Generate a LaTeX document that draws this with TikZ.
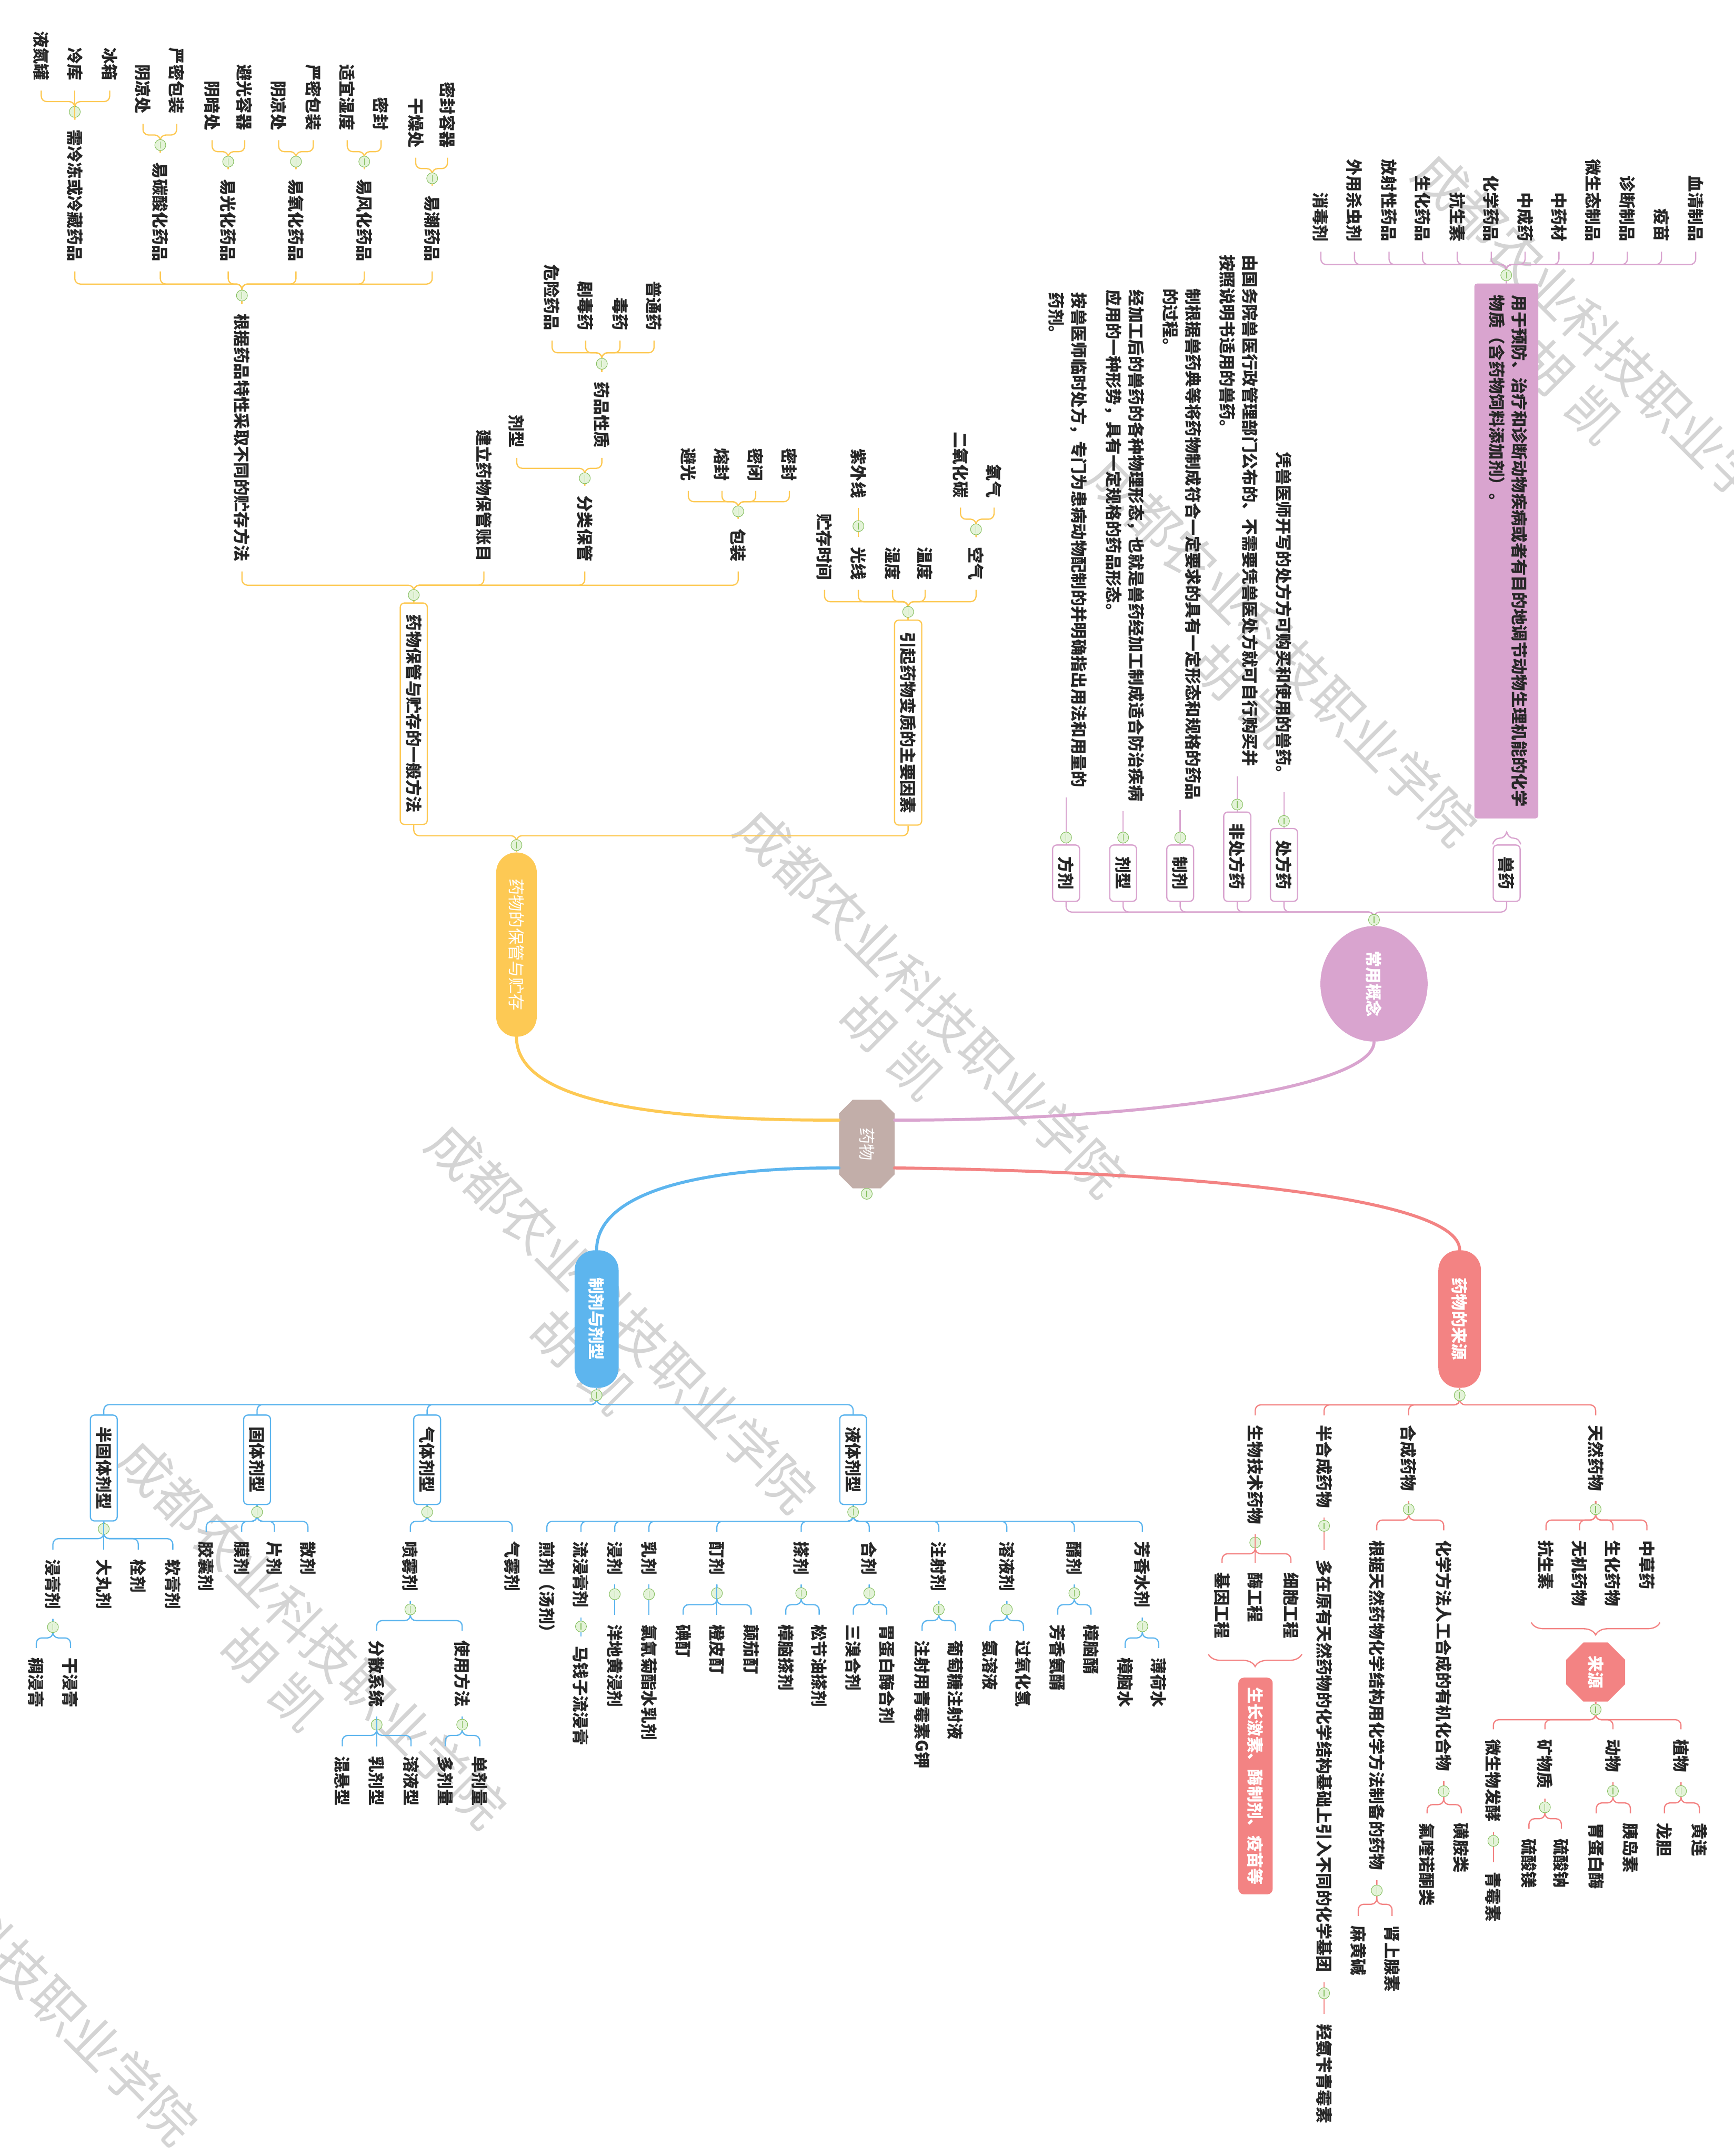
\documentclass[tikz,border=0pt]{standalone}
\usepackage{fontspec}
\setmainfont{Noto Sans CJK SC}
\usepackage{graphicx}
\usetikzlibrary{calc,shapes.geometric,decorations.pathreplacing,backgrounds}

\definecolor{pk}{HTML}{D9A4CF}
\definecolor{yl}{HTML}{FDC954}
\definecolor{bl}{HTML}{5DB5EE}
\definecolor{rd}{HTML}{F38383}
\definecolor{hub}{HTML}{C2AEA9}
\definecolor{mk}{HTML}{86C060}
\definecolor{mkf}{HTML}{E4F3D9}
\definecolor{wm}{HTML}{D4D4D4}
\definecolor{ink}{HTML}{262626}

% 竖排文字
\newcommand\vtext[1]{\rotatebox{-90}{#1}}
\newcommand\vlines[1]{\rotatebox{-90}{\begin{tabular}{@{}l@{}}#1\end{tabular}}}

% 子节点连线
\newcommand\kidsdown[4]{%
  \foreach \k in {#4}{\draw[link,#1] (#2.south) -- ++(0,#3) -| (\k.north);}
  \node[fold] (#2-m) at ($(#2.south)+(0,{0.43*#3})$) {};}
\newcommand\kidsup[4]{%
  \foreach \k in {#4}{\draw[link,#1] (#2.north) -- ++(0,-#3) -| (\k.south);}
  \node[fold] (#2-m) at ($(#2.north)-(0,{0.43*#3})$) {};}
\newcommand\onedown[4]{%
  \draw[link,#1] (#2.south) -- (#3.north);
  \node[fold] (#2-m) at ($(#2.south)+(0,#4)$) {};}
\newcommand\oneup[4]{%
  \draw[link,#1] (#2.north) -- (#3.south);
  \node[fold] (#2-m) at ($(#2.north)-(0,#4)$) {};}

\tikzset{
  txt/.style={inner xsep=3pt, inner ysep=7pt, text=ink, font=\fontsize{12}{16.5}\selectfont\bfseries},
  box/.style={txt, draw, fill=white, rounded corners=3pt, line width=0.9pt, inner xsep=4pt, inner ysep=8.5pt},
  pill/.style={rounded corners=14.5pt, text=white, inner sep=0pt, font=\fontsize{12}{16.5}\selectfont\bfseries},
  link/.style={line width=0.9pt, rounded corners=4pt},
  main/.style={line width=2.2pt, line cap=round},
  brace/.style={decorate, decoration={brace, amplitude=9pt}, line width=0.9pt},
  fold/.style={circle, draw=mk, fill=mkf, line width=0.4pt, minimum size=8pt, inner sep=0pt,
    path picture={\draw[mk, line width=0.5pt] ([yshift=1.6pt]path picture bounding box.south) -- ([yshift=-1.6pt]path picture bounding box.north);}},
  wmk/.style={rotate=-45, text=wm, font=\fontsize{38}{44}\selectfont, inner sep=0pt},
}

\begin{document}
\begin{tikzpicture}[x=1pt, y=-1pt]
\useasboundingbox (0,0) rectangle (1261,1568);

% 水印
\node[wmk] (wm1) at (1170,252) {成都农业科技职业学院};
\node[wmk] (wh1) at (1142,284) {胡\hspace{.3em}凯};
\node[wmk] (wm2) at (933,473) {成都农业科技职业学院};
\node[wmk] (wh2) at (905,505) {胡\hspace{.3em}凯};
\node[wmk] (wm3) at (677,729) {成都农业科技职业学院};
\node[wmk] (wh3) at (649,761) {胡\hspace{.3em}凯};
\node[wmk] (wm4) at (452,958) {成都农业科技职业学院};
\node[wmk] (wh4) at (424,990) {胡\hspace{.3em}凯};
\node[wmk] (wm5) at (227,1188) {成都农业科技职业学院};
\node[wmk] (wh5) at (199,1220) {胡\hspace{.3em}凯};
\node[wmk] (wm6) at (2,1418) {成都农业科技职业学院};

% 中心主题
\node[minimum width=40pt, minimum height=64pt, inner sep=0pt, text=white, font=\fontsize{12}{16}\selectfont] (drug) at (630.5,832) {\vtext{药物}};
\begin{scope}[on background layer]
\fill[hub] ($(drug.north west)+(10,0)$) -- ($(drug.north east)+(-10,0)$) -- ($(drug.north east)+(0,10)$)
  -- ($(drug.south east)+(0,-10)$) -- ($(drug.south east)+(-10,0)$) -- ($(drug.south west)+(10,0)$)
  -- ($(drug.south west)+(0,-10)$) -- ($(drug.north west)+(0,10)$) -- cycle;
\end{scope}

\node[pill, fill=yl, minimum width=29.5pt, minimum height=134pt, font=\fontsize{12}{16}\selectfont] (keep) at (375.7,687) {\vtext{药物的保管与贮存}};
\node[ellipse, fill=pk, text=white, inner sep=0pt, minimum width=78pt, minimum height=84pt, font=\fontsize{12}{16}\selectfont\bfseries] (concept) at (999.5,715.5) {\vtext{常用概念}};
\node[pill, fill=bl, minimum width=32pt, minimum height=100pt] (form) at (434,959.3) {\vtext{制剂与剂型}};
\node[pill, fill=rd, minimum width=31pt, minimum height=100pt] (origin) at (1061.8,959.3) {\vtext{药物的来源}};

\draw[main,yl] ($(drug.north west)!0.23!(drug.south west)$) .. controls (470,815) and (375.7,800) .. (keep.south);
\draw[main,pk] ($(drug.north east)!0.23!(drug.south east)$) .. controls (840,815) and (999.5,790) .. (concept.south);
\draw[main,bl] ($(drug.south west)!0.23!(drug.north west)$) .. controls (500,849) and (434,870) .. (form.north);
\draw[main,rd] ($(drug.south east)!0.23!(drug.north east)$) .. controls (860,852) and (1061.8,870) .. (origin.north);
\node[fold] (drug-m) at ($(drug.south)+(0,4)$) {};

% 常用概念
\node[box,draw=pk,anchor=south] (recipe) at (775.5,656) {\vtext{方剂}};
\node[box,draw=pk,anchor=south] (dosage) at (817,656) {\vtext{剂型}};
\node[box,draw=pk,anchor=south] (prep) at (858.5,656) {\vtext{制剂}};
\node[box,draw=pk,anchor=south] (otc) at (900,656) {\vtext{非处方药}};
\node[box,draw=pk,anchor=south] (rx) at (934,656) {\vtext{处方药}};
\node[box,draw=pk,anchor=south] (vet) at (1096,656) {\vtext{兽药}};
\kidsup{pk}{concept}{10}{recipe,dosage,prep,otc,rx,vet}

\node[txt,anchor=south] (rx-d) at (934,576) {\vtext{凭兽医师开写的处方方可购买和使用的兽药。}};
\node[txt,anchor=south] (otc-d) at (900,564.6) {\vlines{由国务院兽医行政管理部门公布的、不需要凭兽医处方就可自行购买并\\按照说明书适用的兽药。}};
\node[txt,anchor=south] (prep-d) at (858.5,589) {\vlines{制根据兽药典等将药物制成符合一定要求的具有一定形态和规格的药品\\的过程。}};
\node[txt,anchor=south] (dosage-d) at (817,590) {\vlines{经加工后的兽药的各种物理形态，也就是兽药经加工制成适合防治疾病\\应用的一种形势，具有一定规格的药品形态。}};
\node[txt,anchor=south] (recipe-d) at (775.5,580) {\vlines{按兽医师临时处方，专门为患病动物配制的并明确指出用法和用量的\\药剂。}};
\oneup{pk}{rx}{rx-d}{5}
\oneup{pk}{otc}{otc-d}{5}
\oneup{pk}{prep}{prep-d}{5}
\oneup{pk}{dosage}{dosage-d}{5}
\oneup{pk}{recipe}{recipe-d}{5}

\node[txt, fill=pk, rounded corners=2pt, minimum width=42pt, minimum height=389pt, inner xsep=6.75pt, inner ysep=8.5pt] (vetdef) at (1095.7,400.7) {\vlines{用于预防、治疗和诊断动物疾病或者有目的地调节动物生理机能的化学\\物质（含药物饲料添加剂）。}};
\draw[brace,pk] (vet.north west) -- (vet.north east);
\node[txt,anchor=south] (v1) at (960.8,183) {\vtext{消毒剂}};
\node[txt,anchor=south] (v2) at (985.3,183) {\vtext{外用杀虫剂}};
\node[txt,anchor=south] (v3) at (1010.4,183) {\vtext{放射性药品}};
\node[txt,anchor=south] (v4) at (1034.8,183) {\vtext{生化药品}};
\node[txt,anchor=south] (v5) at (1060,183) {\vtext{抗生素}};
\node[txt,anchor=south] (v6) at (1084.8,183) {\vtext{化学药品}};
\node[txt,anchor=south] (v7) at (1109.4,183) {\vtext{中成药}};
\node[txt,anchor=south] (v8) at (1134,183) {\vtext{中药材}};
\node[txt,anchor=south] (v9) at (1159,183) {\vtext{微生态制品}};
\node[txt,anchor=south] (v10) at (1183.8,183) {\vtext{诊断制品}};
\node[txt,anchor=south] (v11) at (1208.6,183) {\vtext{疫苗}};
\node[txt,anchor=south] (v12) at (1233.5,183) {\vtext{血清制品}};
\kidsup{pk}{vetdef}{13.6}{v1,v2,v3,v4,v5,v6,v7,v8,v9,v10,v11,v12}

% 药物的保管与贮存
\node[box,draw=yl,anchor=south] (general) at (301,600) {\vtext{药物保管与贮存的一般方法}};
\node[box,draw=yl,anchor=south] (cause) at (660.6,600.5) {\vtext{引起药物变质的主要因素}};
\kidsup{yl}{keep}{12}{general,cause}

\node[txt,anchor=south] (time) at (599.8,429) {\vtext{贮存时间}};
\node[txt,anchor=south] (light) at (624.4,429) {\vtext{光线}};
\node[txt,anchor=south] (humid) at (649.3,429) {\vtext{湿度}};
\node[txt,anchor=south] (temp) at (673,429) {\vtext{温度}};
\node[txt,anchor=south] (air) at (710,429) {\vtext{空气}};
\kidsup{yl}{cause}{13}{time,light,humid,temp,air}
\node[txt,anchor=south] (uv) at (624.4,369.5) {\vtext{紫外线}};
\oneup{yl}{light}{uv}{8}
\node[txt,anchor=south] (co2) at (698.7,369.2) {\vtext{二氧化碳}};
\node[txt,anchor=south] (oxy) at (723.1,369.2) {\vtext{氧气}};
\kidsup{yl}{air}{13}{co2,oxy}

\node[txt,anchor=south] (bystore) at (176,415.6) {\vtext{根据药品特性采取不同的贮存方法}};
\node[txt,anchor=south] (ledger) at (352,415.6) {\vtext{建立药物保管账目}};
\node[txt,anchor=south] (sorted) at (425.4,415.6) {\vtext{分类保管}};
\node[txt,anchor=south] (pack) at (537,415.6) {\vtext{包装}};
\kidsup{yl}{general}{12.5}{bystore,ledger,sorted,pack}

\node[txt,anchor=south] (pa1) at (500.7,357) {\vtext{避光}};
\node[txt,anchor=south] (pa2) at (525.2,357) {\vtext{熔封}};
\node[txt,anchor=south] (pa3) at (549.7,357) {\vtext{密闭}};
\node[txt,anchor=south] (pa4) at (574.2,357) {\vtext{密封}};
\kidsup{yl}{pack}{12.3}{pa1,pa2,pa3,pa4}

\node[txt,anchor=south] (dform) at (375.9,333) {\vtext{剂型}};
\node[txt,anchor=south] (nature) at (437.8,333) {\vtext{药品性质}};
\kidsup{yl}{sorted}{12.6}{dform,nature}
\node[txt,anchor=south] (n1) at (401.6,247.7) {\vtext{危险药品}};
\node[txt,anchor=south] (n2) at (426,247.7) {\vtext{剧毒药}};
\node[txt,anchor=south] (n3) at (451,247.7) {\vtext{毒药}};
\node[txt,anchor=south] (n4) at (475.8,247.7) {\vtext{普通药}};
\kidsup{yl}{nature}{14}{n1,n2,n3,n4}

\node[txt,anchor=south] (c1) at (54.4,197.4) {\vtext{需冷冻或冷藏药品}};
\node[txt,anchor=south] (c2) at (116.6,197.4) {\vtext{易碳酸化药品}};
\node[txt,anchor=south] (c3) at (166,197.4) {\vtext{易光化药品}};
\node[txt,anchor=south] (c4) at (215.3,197.4) {\vtext{易氧化药品}};
\node[txt,anchor=south] (c5) at (265,197.4) {\vtext{易风化药品}};
\node[txt,anchor=south] (c6) at (314.4,197.4) {\vtext{易潮药品}};
\kidsup{yl}{bystore}{14.6}{c1,c2,c3,c4,c5,c6}

\node[txt,anchor=south] (c6a) at (302.4,114.7) {\vtext{干燥处}};
\node[txt,anchor=south] (c6b) at (325.5,114.7) {\vtext{密封容器}};
\kidsup{yl}{c6}{12.4}{c6a,c6b}
\node[txt,anchor=south] (c5a) at (252.6,102) {\vtext{适宜湿度}};
\node[txt,anchor=south] (c5b) at (277.2,102) {\vtext{密封}};
\kidsup{yl}{c5}{12.7}{c5a,c5b}
\node[txt,anchor=south] (c4a) at (202.7,102) {\vtext{阴凉处}};
\node[txt,anchor=south] (c4b) at (227.9,102) {\vtext{严密包装}};
\kidsup{yl}{c4}{12.7}{c4a,c4b}
\node[txt,anchor=south] (c3a) at (154.3,102) {\vtext{阴暗处}};
\node[txt,anchor=south] (c3b) at (178,102) {\vtext{避光容器}};
\kidsup{yl}{c3}{12.7}{c3a,c3b}
\node[txt,anchor=south] (c2a) at (104,90) {\vtext{阴凉处}};
\node[txt,anchor=south] (c2b) at (128.5,90) {\vtext{严密包装}};
\kidsup{yl}{c2}{12.8}{c2a,c2b}
\node[txt,anchor=south] (c1a) at (30,65.9) {\vtext{液氮罐}};
\node[txt,anchor=south] (c1b) at (54.4,65.9) {\vtext{冷库}};
\node[txt,anchor=south] (c1c) at (79.8,65.9) {\vtext{冰箱}};
\kidsup{yl}{c1}{13.1}{c1a,c1c}
\draw[link,yl] (c1.north) -- (c1b.south);

% 制剂与剂型
\node[box,draw=bl,anchor=north] (semi) at (75.5,1028.7) {\vtext{半固体剂型}};
\node[box,draw=bl,anchor=north] (solid) at (187,1028.7) {\vtext{固体剂型}};
\node[box,draw=bl,anchor=north] (gas) at (310.7,1028.7) {\vtext{气体剂型}};
\node[box,draw=bl,anchor=north] (liquid) at (620.6,1028.7) {\vtext{液体剂型}};
\kidsdown{bl}{form}{12}{semi,solid,gas,liquid}

\node[txt,anchor=north] (ext) at (38.5,1127) {\vtext{浸膏剂}};
\node[txt,anchor=north] (bolus) at (75.5,1127) {\vtext{大丸剂}};
\node[txt,anchor=north] (supp) at (100.6,1127) {\vtext{栓剂}};
\node[txt,anchor=north] (oint) at (125.7,1127) {\vtext{软膏剂}};
\kidsdown{bl}{semi}{12.4}{ext,supp,oint}
\draw[link,bl] (semi.south) -- (bolus.north);
\node[txt,anchor=north] (ext1) at (26.4,1198.5) {\vtext{稠浸膏}};
\node[txt,anchor=north] (ext2) at (51.3,1198.5) {\vtext{干浸膏}};
\kidsdown{bl}{ext}{13.8}{ext1,ext2}

\node[txt,anchor=north] (caps) at (150,1114) {\vtext{胶囊剂}};
\node[txt,anchor=north] (film) at (175.8,1114) {\vtext{膜剂}};
\node[txt,anchor=north] (tab) at (199.7,1114) {\vtext{片剂}};
\node[txt,anchor=north] (powd) at (224,1114) {\vtext{散剂}};
\kidsdown{bl}{solid}{11.8}{caps,film,tab,powd}

\node[txt,anchor=north] (spray) at (298.5,1114) {\vtext{喷雾剂}};
\node[txt,anchor=north] (aero) at (372.6,1114) {\vtext{气雾剂}};
\kidsdown{bl}{gas}{11.8}{spray,aero}
\node[txt,anchor=north] (disp) at (274,1186) {\vtext{分散系统}};
\node[txt,anchor=north] (usage) at (336.2,1186) {\vtext{使用方法}};
\kidsdown{bl}{spray}{14.2}{disp,usage}
\node[txt,anchor=north] (dsp1) at (249,1270) {\vtext{混悬型}};
\node[txt,anchor=north] (dsp2) at (274,1270) {\vtext{乳剂型}};
\node[txt,anchor=north] (dsp3) at (299,1270) {\vtext{溶液型}};
\kidsdown{bl}{disp}{13.7}{dsp1,dsp3}
\draw[link,bl] (disp.south) -- (dsp2.north);
\node[txt,anchor=north] (use1) at (323.9,1270) {\vtext{多剂量}};
\node[txt,anchor=north] (use2) at (349,1270) {\vtext{单剂量}};
\kidsdown{bl}{usage}{13.7}{use1,use2}

\node[txt,anchor=north] (decoc) at (397.8,1114) {\vtext{煎剂（汤剂）}};
\node[txt,anchor=north] (fluid) at (422.6,1114) {\vtext{流浸膏剂}};
\node[txt,anchor=north] (inf) at (447.2,1114) {\vtext{浸剂}};
\node[txt,anchor=north] (emu) at (472.1,1114) {\vtext{乳剂}};
\node[txt,anchor=north] (tinc) at (521.5,1114) {\vtext{酊剂}};
\node[txt,anchor=north] (lin) at (582.8,1114) {\vtext{搽剂}};
\node[txt,anchor=north] (mix) at (632.3,1114) {\vtext{合剂}};
\node[txt,anchor=north] (inj) at (682.9,1114) {\vtext{注射剂}};
\node[txt,anchor=north] (sol) at (732.4,1114) {\vtext{溶液剂}};
\node[txt,anchor=north] (spir) at (781.5,1114) {\vtext{醑剂}};
\node[txt,anchor=north] (arom) at (831,1114) {\vtext{芳香水剂}};
\kidsdown{bl}{liquid}{11.8}{decoc,fluid,inf,emu,tinc,lin,mix,inj,sol,spir,arom}

\node[txt,anchor=north] (fluid1) at (422.6,1190) {\vtext{马钱子流浸膏}};
\onedown{bl}{fluid}{fluid1}{6.5}
\node[txt,anchor=north] (inf1) at (447.2,1174.3) {\vtext{洋地黄浸剂}};
\onedown{bl}{inf}{inf1}{7}
\node[txt,anchor=north] (emu1) at (472.1,1174.3) {\vtext{氯氰菊酯水乳剂}};
\onedown{bl}{emu}{emu1}{7}
\node[txt,anchor=north] (tinc1) at (497,1174.3) {\vtext{碘酊}};
\node[txt,anchor=north] (tinc2) at (521.5,1174.3) {\vtext{橙皮酊}};
\node[txt,anchor=north] (tinc3) at (546.4,1174.3) {\vtext{颠茄酊}};
\kidsdown{bl}{tinc}{14.6}{tinc1,tinc3}
\draw[link,bl] (tinc.south) -- (tinc2.north);
\node[txt,anchor=north] (lin1) at (571.6,1174.3) {\vtext{樟脑搽剂}};
\node[txt,anchor=north] (lin2) at (595.9,1174.3) {\vtext{松节油搽剂}};
\kidsdown{bl}{lin}{14.6}{lin1,lin2}
\node[txt,anchor=north] (mix1) at (620.7,1174.3) {\vtext{三溴合剂}};
\node[txt,anchor=north] (mix2) at (645,1174.3) {\vtext{胃蛋白酶合剂}};
\kidsdown{bl}{mix}{14.6}{mix1,mix2}
\node[txt,anchor=north] (inj1) at (670.8,1186) {\vtext{注射用青霉素G钾}};
\node[txt,anchor=north] (inj2) at (695,1186) {\vtext{葡萄糖注射液}};
\kidsdown{bl}{inj}{14.2}{inj1,inj2}
\node[txt,anchor=north] (sol1) at (720.2,1186) {\vtext{氨溶液}};
\node[txt,anchor=north] (sol2) at (744.5,1186) {\vtext{过氧化氢}};
\kidsdown{bl}{sol}{14.2}{sol1,sol2}
\node[txt,anchor=north] (spir1) at (769.4,1174.3) {\vtext{芳香氨醑}};
\node[txt,anchor=north] (spir2) at (793.6,1174.3) {\vtext{樟脑醑}};
\kidsdown{bl}{spir}{14.6}{spir1,spir2}
\node[txt,anchor=north] (arom1) at (818.5,1198.5) {\vtext{樟脑水}};
\node[txt,anchor=north] (arom2) at (842.8,1198.5) {\vtext{薄荷水}};
\kidsdown{bl}{arom}{14.8}{arom1,arom2}

% 药物的来源
\node[txt,anchor=north] (bio) at (913.1,1029.3) {\vtext{生物技术药物}};
\node[txt,anchor=north] (semisyn) at (963.2,1029.3) {\vtext{半合成药物}};
\node[txt,anchor=north] (syn) at (1024.7,1029.3) {\vtext{合成药物}};
\node[txt,anchor=north] (nat) at (1160.7,1029.3) {\vtext{天然药物}};
\kidsdown{rd}{origin}{12.2}{bio,semisyn,syn,nat}

\node[txt,anchor=north] (nat1) at (1124.6,1113) {\vtext{抗生素}};
\node[txt,anchor=north] (nat2) at (1149,1113) {\vtext{无机药物}};
\node[txt,anchor=north] (nat3) at (1173.3,1113) {\vtext{生化药物}};
\node[txt,anchor=north] (nat4) at (1198,1113) {\vtext{中草药}};
\kidsdown{rd}{nat}{13.8}{nat1,nat2,nat3,nat4}
\coordinate (natL) at (1113.9,1180);
\coordinate (natR) at (1207.5,1180);
\draw[brace,rd] (natR) -- (natL);
\node[regular polygon, regular polygon sides=8, fill=rd, minimum size=46.5pt, inner sep=0pt, text=white, font=\fontsize{12}{16}\selectfont\bfseries] (src) at (1160.7,1216) {\vtext{来源}};
\node[txt,anchor=north] (micro) at (1086.3,1257.7) {\vtext{微生物发酵}};
\node[txt,anchor=north] (mineral) at (1123.8,1257.7) {\vtext{矿物质}};
\node[txt,anchor=north] (animal) at (1173.3,1257.7) {\vtext{动物}};
\node[txt,anchor=north] (plant) at (1222.8,1257.7) {\vtext{植物}};
\kidsdown{rd}{src}{13}{micro,mineral,animal,plant}
\node[txt,anchor=north] (micro1) at (1086.3,1354.3) {\vtext{青霉素}};
\onedown{rd}{micro}{micro1}{6.7}
\node[txt,anchor=north] (min1) at (1112.2,1330) {\vtext{硫酸镁}};
\node[txt,anchor=north] (min2) at (1135.8,1330) {\vtext{硫酸钠}};
\kidsdown{rd}{mineral}{14.6}{min1,min2}
\node[txt,anchor=north] (ani1) at (1161.2,1318.8) {\vtext{胃蛋白酶}};
\node[txt,anchor=north] (ani2) at (1186,1318.8) {\vtext{胰岛素}};
\kidsdown{rd}{animal}{15.1}{ani1,ani2}
\node[txt,anchor=north] (pla1) at (1210.7,1318.8) {\vtext{龙胆}};
\node[txt,anchor=north] (pla2) at (1236.2,1318.8) {\vtext{黄连}};
\kidsdown{rd}{plant}{15.1}{pla1,pla2}

\node[txt,anchor=north] (synA) at (1001.5,1113) {\vtext{根据天然药物化学结构用化学方法制备的药物}};
\node[txt,anchor=north] (synB) at (1050.2,1113) {\vtext{化学方法人工合成的有机化合物}};
\kidsdown{rd}{syn}{13.8}{synA,synB}
\node[txt,anchor=north] (synB1) at (1038.1,1318.8) {\vtext{氟喹诺酮类}};
\node[txt,anchor=north] (synB2) at (1063,1318.8) {\vtext{磺胺类}};
\kidsdown{rd}{synB}{17}{synB1,synB2}
\node[txt,anchor=north] (synA1) at (988,1393.4) {\vtext{麻黄碱}};
\node[txt,anchor=north] (synA2) at (1012.6,1393.4) {\vtext{肾上腺素}};
\kidsdown{rd}{synA}{17.5}{synA1,synA2}

\node[txt,anchor=north] (semi1) at (963.2,1127.2) {\vtext{多在原有天然药物的化学结构基础上引入不同的化学基团}};
\onedown{rd}{semisyn}{semi1}{6}
\node[txt,anchor=north] (semi2) at (963.2,1464.8) {\vtext{羟氨苄青霉素}};
\onedown{rd}{semi1}{semi2}{8}

\node[txt,anchor=north] (bio1) at (889,1136.6) {\vtext{基因工程}};
\node[txt,anchor=north] (bio2) at (913.1,1136.6) {\vtext{酶工程}};
\node[txt,anchor=north] (bio3) at (939,1136.6) {\vtext{细胞工程}};
\kidsdown{rd}{bio}{14.3}{bio1,bio3}
\draw[link,rd] (bio.south) -- (bio2.north);
\coordinate (bioL) at (879,1203);
\coordinate (bioR) at (947,1203);
\draw[brace,rd] (bioR) -- (bioL);
\node[txt, fill=rd, text=white, rounded corners=4pt, minimum width=25pt, inner ysep=6.8pt, anchor=north] (bioeg) at (913.3,1219.9) {\vtext{生长激素、酶制剂、疫苗等}};
\end{tikzpicture}
\end{document}
